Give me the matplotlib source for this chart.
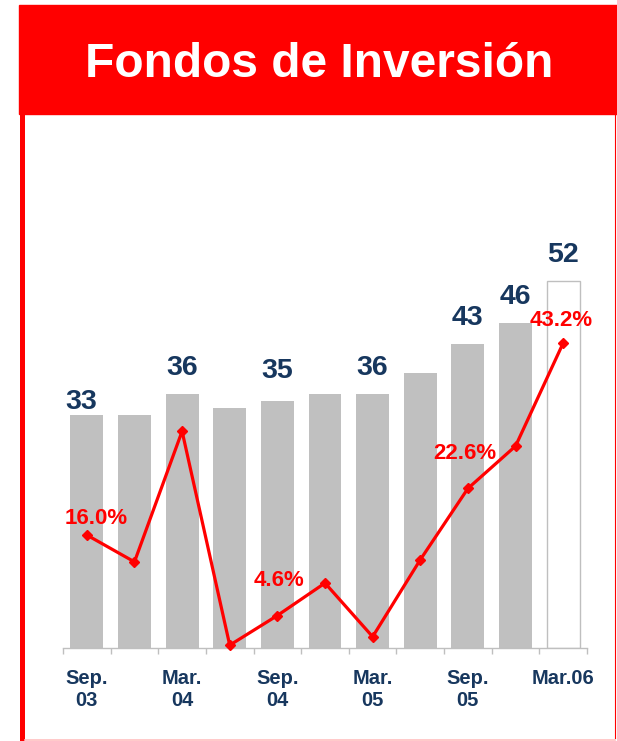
import numpy as np
import matplotlib
matplotlib.use('Agg')
import matplotlib.pyplot as plt
from matplotlib.patches import Rectangle
from matplotlib.lines import Line2D

plt.rcParams['font.family'] = ['Liberation Sans', 'DejaVu Sans']

# data
periods = ['Sep.03', 'Dic.03', 'Mar.04', 'Jun.04', 'Sep.04', 'Dic.04',
           'Mar.05', 'Jun.05', 'Sep.05', 'Dic.05', 'Mar.06']
fondos = [33, 33, 36, 34, 35, 36, 36, 39, 43, 46, 52]
crecimiento = [16.0, 12.2, 30.7, 0.4, 4.6, 9.2, 1.6, 12.5, 22.6, 28.6, 43.2]
tick_pos = [0, 2, 4, 6, 8, 10]
tick_labels = ['Sep.\n03', 'Mar.\n04', 'Sep.\n04', 'Mar.\n05', 'Sep.\n05', 'Mar.06']
value_label_idx = [0, 2, 4, 6, 8, 9, 10]
pct_label_idx = [0, 4, 8, 10]

RED = '#FF0000'
NAVY = '#17375E'
GRAY = '#C0C0C0'

W, H = 617, 741
fig = plt.figure(figsize=(W / 100, H / 100), dpi=100)

# header band and frame
fig.patches.append(Rectangle((19 / W, (H - 114) / H), (W - 19) / W, 109 / H,
                             transform=fig.transFigure, color=RED, zorder=0))
fig.lines.append(Line2D([22.5 / W, 22.5 / W], [0, (H - 113) / H],
                        transform=fig.transFigure, color=RED, lw=3.6))
fig.lines.append(Line2D([615 / W, 615 / W], [3 / H, (H - 113) / H],
                        transform=fig.transFigure, color=RED, lw=0.8))
fig.lines.append(Line2D([25 / W, 615 / W], [1 / H, 1 / H],
                        transform=fig.transFigure, color='#FFC0C0', lw=1.2))
fig.text(319 / W, (H - 77) / H, 'Fondos de Inversión', color='white',
         fontsize=34.5, fontweight='bold', ha='center', va='baseline')

# chart
ax = fig.add_axes([63 / W, 93 / H, 524 / W, 60 * 7.06 / H])
x = np.arange(len(fondos))
bars = ax.bar(x, fondos, width=0.69, color=GRAY, zorder=1)
bars[-1].set_facecolor('white')
bars[-1].set_edgecolor('#BFBFBF')
bars[-1].set_linewidth(1)

ax.plot(x, crecimiento, color=RED, lw=2.3, marker='D', ms=5.5, zorder=3,
        clip_on=False)

ax.set_xlim(-0.5, 10.5)
ax.set_ylim(0, 60)
for s in ['top', 'right', 'left']:
    ax.spines[s].set_visible(False)
ax.spines['bottom'].set_color('#BFBFBF')
ax.spines['bottom'].set_linewidth(1)
ax.set_yticks([])
ax.set_xticks(np.arange(-0.5, 11, 1), minor=True)
ax.tick_params(axis='x', which='minor', length=4, color='#BFBFBF', width=1)
ax.set_xticks(tick_pos)
ax.set_xticklabels(tick_labels, fontsize=14.5, fontweight='bold', color=NAVY,
                   linespacing=1.2)
ax.tick_params(axis='x', which='major', length=0, pad=15)

# value labels above bars
val_offsets = {0: (-4, 4.3), 4: (0, 16.6)}
for i in value_label_idx:
    dx, dy = val_offsets.get(i, (0, 13.7))
    ax.annotate(str(fondos[i]), (x[i], fondos[i]), xytext=(dx, dy),
                textcoords='offset points', ha='center', va='baseline',
                fontsize=20.5, fontweight='bold', color=NAVY, annotation_clip=False)

# growth labels
pct_offsets = {0: (6.5, 7.9), 4: (1.4, 20.9), 8: (-2.2, 20.9), 10: (-1.4, 12.2)}
for i in pct_label_idx:
    dx, dy = pct_offsets[i]
    ax.annotate(f'{crecimiento[i]:.1f}%', (x[i], crecimiento[i]), xytext=(dx, dy),
                textcoords='offset points', ha='center', va='baseline',
                fontsize=16, fontweight='bold', color=RED, zorder=4,
                annotation_clip=False)

fig.savefig('out.png', dpi=100)
